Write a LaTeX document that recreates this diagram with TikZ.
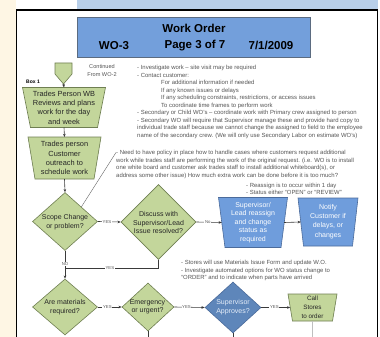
\documentclass[tikz,border=0pt]{standalone}
\usepackage{fontspec}
\setmainfont{Liberation Sans}
\usetikzlibrary{shapes.geometric,arrows.meta,calc}
\definecolor{cream}{HTML}{FEF6E4}
\definecolor{topblue}{HTML}{B8CFE9}
\definecolor{gfill}{HTML}{C3D69B}
\definecolor{gline}{HTML}{6F7F52}
\definecolor{bfill}{HTML}{6F9DDC}
\definecolor{bline}{HTML}{4B6B9B}
\definecolor{dfill}{HTML}{5E86BA}
\definecolor{dtext}{HTML}{E4ECF8}
\definecolor{tfill}{HTML}{739FDB}
\definecolor{tline}{HTML}{5B6B80}
\definecolor{notec}{HTML}{555555}
\definecolor{connc}{HTML}{3A3A3A}
\newcommand{\trapz}[3]{% node name, inset, style
  \filldraw[#3] (#1.north west) -- (#1.north east) -- ($(#1.south east)+(-#2,0)$) -- ($(#1.south west)+(#2,0)$) -- cycle;}
\begin{document}
\begin{tikzpicture}[x=1pt,y=-1pt,
  box/.style={inner sep=0pt, outer sep=0pt},
  gshape/.style={draw=gline, fill=gfill, line width=0.6pt},
  bshape/.style={draw=bline, fill=bfill, line width=0.6pt},
  gdia/.style={diamond, draw=gline, fill=gfill, line width=0.6pt, inner sep=0pt},
  bdia/.style={diamond, draw=bline, fill=dfill, line width=0.6pt, inner sep=0pt},
  gtxt/.style={align=center, inner sep=0pt, text=black!85, font=\fontsize{7.4}{9.3}\selectfont},
  dtxt/.style={align=center, inner sep=0pt, text=black!85, font=\fontsize{7}{8.4}\selectfont},
  wtxt/.style={align=center, inner sep=0pt, text=white, font=\fontsize{7}{8.4}\selectfont},
  notes/.style={align=left, inner sep=0pt, text=notec, font=\fontsize{5.95}{7.5}\selectfont},
  lab/.style={font=\fontsize{4.3}{5}\selectfont, text=notec, fill=white, inner sep=0.6pt},
  cn/.style={draw=connc, line width=0.6pt},
  arr/.style={-{Stealth[length=3.2pt,width=2.6pt]}},
  ttl/.style={font=\fontsize{11.5}{13}\selectfont\bfseries, inner sep=0pt}
]
\useasboundingbox (0,0) rectangle (380,337);
% page background
\fill[white] (0,0) rectangle (380,337);
\fill[cream] (0,0) rectangle (16,337);
\fill[topblue] (77,0) rectangle (377.5,9.5);
\draw[black, line width=1.6pt] (16.5,337) -- (16.5,10) -- (377.5,10) -- (377.5,337);

% title
\node[draw=tline, fill=tfill, line width=0.7pt, minimum width=233pt, minimum height=40pt, inner sep=0pt] (title) at (193.5,37) {};
\node[ttl] (t1) at (194,28.5) {Work Order};
\node[ttl] (t2) at (114,45.5) {WO-3};
\node[ttl] (t3) at (195,45.5) {Page 3 of 7};
\node[ttl] (t4) at (271,45.5) {7/1/2009};

% off page connector
\node[box, minimum width=17pt, minimum height=21pt] (opc) at (63.5,73.5) {};
\filldraw[gshape] (opc.north west) -- (opc.north east) -- ($(opc.north east)+(0,11)$) -- (opc.south) -- ($(opc.north west)+(0,11)$) -- cycle;
\node[notes, align=center, font=\fontsize{5.6}{7.5}\selectfont] (cont) at (102,70.5) {Continued\\From WO-2};
\node[font=\fontsize{5}{6}\selectfont\bfseries, inner sep=0pt] (box1lab) at (33,82) {Box 1};

% boxes
\node[box, minimum width=83pt, minimum height=40pt] (b1) at (64,107.5) {};
\trapz{b1}{8}{gshape}
\node[gtxt] (b1t) at (b1.center) {Trades Person WB\\Reviews and plans\\work for the day\\and week};
\node[box, minimum width=73pt, minimum height=42pt] (b2) at (64.5,158) {};
\trapz{b2}{7}{gshape}
\node[gtxt, font=\fontsize{7.4}{9.2}\selectfont] (b2t) at (b2.center) {Trades person\\Customer\\outreach to\\schedule work};

% diamonds row 1
\node[gdia, minimum width=65pt, minimum height=58pt] (sc) at (65,221.5) {};
\node[dtxt] (sct) at (65,222) {Scope Change\\or problem?};
\node[gdia, minimum width=75pt, minimum height=75pt] (dc) at (158.5,222) {};
\node[dtxt] (dct) at (158.5,222.5) {Discuss with\\Supervisor/Lead\\Issue resolved?};
\node[box, minimum width=69pt, minimum height=50pt] (sl) at (253,222.5) {};
\trapz{sl}{6.5}{bshape}
\node[wtxt] (slt) at (253,222.5) {Supervisor/\\Lead reassign\\and change\\status as\\required};
\node[box, minimum width=60pt, minimum height=48pt] (nc) at (328,222) {};
\trapz{nc}{5.5}{bshape}
\node[wtxt, font=\fontsize{7}{9.3}\selectfont] (nct) at (328,221.5) {Notify\\Customer if\\delays, or\\changes};

% diamonds row 2
\node[gdia, minimum width=65pt, minimum height=56pt] (am) at (65,307) {};
\node[dtxt] (amt) at (65,307) {Are materials\\required?};
\node[gdia, minimum width=52pt, minimum height=48pt] (eu) at (148,307) {};
\node[dtxt] (eut) at (147.5,307) {Emergency\\or urgent?};
\node[bdia, minimum width=56pt, minimum height=51pt] (sa) at (233,307.5) {};
\node[dtxt, text=dtext] (sat) at (233,307) {Supervisor\\Approves?};
\node[box, minimum width=49pt, minimum height=27pt] (cs) at (312.5,307.5) {};
\trapz{cs}{4.5}{gshape}
\node[dtxt, font=\fontsize{6.3}{8.8}\selectfont] (cst) at (312.5,307.5) {Call\\Stores\\to order};

% notes
\node[notes, anchor=north west] (n1) at (137,65) {- Investigate work – site visit may be required\\- Contact customer:\\\hspace*{24pt}For additional information if needed\\\hspace*{24pt}If any known issues or delays\\\hspace*{24pt}If any scheduling constraints, restrictions, or access issues\\\hspace*{24pt}To coordinate time frames to perform work\\- Secondary or Child WO’s – coordinate work with Primary crew assigned to person\\- Secondary WO will require that Supervisor manage these and provide hard copy to\\individual trade staff because we cannot change the assigned to field to the employee\\name of the secondary crew. (We will only use Secondary Labor on estimate WO’s)};
\node[notes, anchor=north west] (n2) at (116,150.3) {- Need to have policy in place how to handle cases where customers request additional\\work while trades staff are performing the work of the original request. (i.e. WO is to install\\one white board and customer ask trades staff to install additional whiteboard(s), or\\address some other issue) How much extra work can be done before it is too much?};
\node[notes, anchor=north west, font=\fontsize{5.95}{7}\selectfont] (n3) at (246,183.3) {- Reassign is to occur within 1 day\\- Status either “OPEN” or “REVIEW”};
\node[notes, anchor=north west] (n4) at (181,260.3) {- Stores will use Materials Issue Form and update W.O.\\- Investigate automated options for WO status change to\\“ORDER” and to indicate when parts have arrived};

% leader line
\coordinate (ld) at (116,152.5);
\draw[draw=gray!80!black, line width=0.4pt] ($(sc.north)!0.5!(sc.east)$) -- (ld);

% connectors
\draw[cn,arr] (opc.south) -- (b1.north);
\draw[cn,arr] (b1.south) -- (b2.north);
\draw[cn,arr] (b2.south) -- (sc.north);
\draw[cn,arr] (sc.east) -- node[lab,pos=0.4]{YES} (dc.west);
\draw[cn,arr] (dc.east) -- node[lab,pos=0.45]{No} ($(sl.west)+(3.3,0)$);
\draw[cn,arr] ($(sl.east)+(-3.3,0)$) -- ($(nc.west)+(2.8,0)$);
\coordinate (j) at (65,268);
\draw[cn] (dc.south) |- node[lab,pos=0.76]{YES} (j);
\draw[cn,arr] (sc.south) -- node[lab,pos=0.47]{NO} (am.north);
\draw[cn,arr] (am.east) -- node[lab,pos=0.4]{YES} (eu.west);
\draw[cn,arr] (eu.east) -- node[lab,pos=0.4]{YES} (sa.west);
\draw[cn,arr] (sa.east) -- node[lab,pos=0.45]{YES} ($(cs.west)+(2.3,0)$);
\coordinate (eue) at (148,338);
\coordinate (sae) at (233,338);
\coordinate (cse) at (312.5,338);
\draw[cn] (eu.south) -- (eue);
\draw[cn] (sa.south) -- (sae);
\draw[draw=gray!50, line width=1.6pt] (cs.south) -- (cse);
\end{tikzpicture}
\end{document}
